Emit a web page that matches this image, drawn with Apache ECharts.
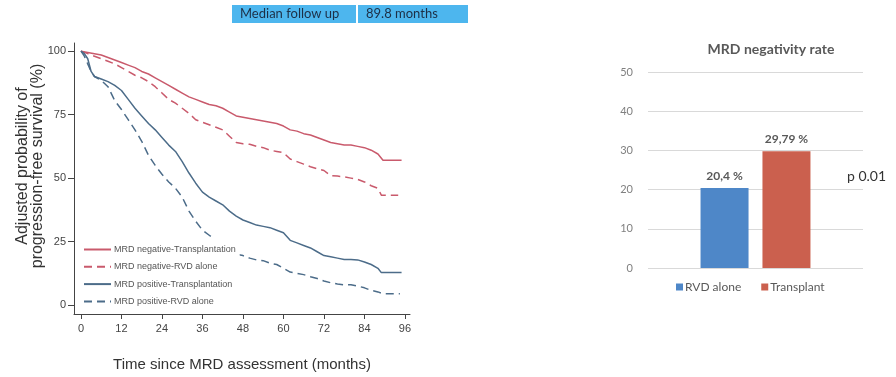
<!DOCTYPE html>
<html>
<head>
<meta charset="utf-8">
<script src="https://cdn.jsdelivr.net/npm/echarts@6/dist/echarts.min.js"></script>
<style>html,body{margin:0;padding:0;background:#fff}#c{width:896px;height:377px}</style>
</head>
<body>
<div id="c"></div>
<script>
// ---- Kaplan-Meier style curves (months, adjusted PFS %) ----
const xTicks = [0, 12, 24, 36, 48, 60, 72, 84, 96];
const yTicks = [0, 25, 50, 75, 100];

const negTxMonths = [0,2,4,6,8,10,12,14,16,18,20,22,24,26,28,30,32,34,36,38,40,42,44,46,48,50,52,54,56,58,60,62,64,66,68,70,72,74,76,78,80,82,84,86,88,89.5,95];
const negTxPFS    = [100,99.5,99,98.5,97.5,96.5,95.5,94.5,93.5,92,91,89.5,88,86.5,85,83.5,82,81,80,79,78.5,77.5,76,74.5,74,73.5,73,72.5,72,71.5,70.5,69,68.5,67.5,67,66,65,64,63.5,63,63,62.5,62,61,59.5,57,57];

const negRvdMonths = [0,2,4,6,8,10,12,14,16,18,20,22,24,26,28,30,32,34,36,38,40,42,44,46,48,50,52,54,56,58,60,62,64,66,68,70,72,74,76,78,80,82,84,86,88,89,94];
const negRvdPFS    = [100,99,98,97,96,95,93.5,92,90.5,89.5,88,86,83.5,81,79.5,77.5,75.5,73,72,71,70,69,66.5,64,63.5,63.3,62.5,62,61,60.5,60,57.5,56.5,55.5,54.5,53.7,53,51,50.8,50.5,50,49.5,48.5,47,46,43.3,43.3];

const posTxMonths = [0,1,2,3,4,6,8,10,12,14,16,18,20,22,24,26,28,30,32,34,36,38,40,42,44,46,48,50,52,54,56,58,60,62,64,66,68,70,72,74,76,78,80,82,84,86,88,89,95];
const posTxPFS    = [100,99,97,92,90,89,88,86.5,84.5,81,77.5,74.5,71.5,69,66,63,60.5,56.5,52,48,44.5,42.5,41,39.5,37,35,33.5,32.5,31.5,31,30.5,29.5,28.5,25.5,24.5,23.5,22.5,21,19.5,19,18.5,18,18,17.8,17,16,14.5,12.8,12.8];

const posRvdMonths = [0,1,2,3,4,6,8,10,12,14,16,18,20,22,24,26,28,30,32,34,36,38,40,42,44,46,48,50,52,54,56,58,60,62,64,66,68,70,72,74,76,78,80,82,84,86,88,89.5,94.5];
const posRvdPFS    = [100,98,95,92,90,88.5,86,80.5,77,73,69,64.5,59,55,51.5,48.5,46,42.5,37,33,29.5,27.5,25.5,23.5,21.5,20,19.5,18.5,17.8,17.5,16.5,16,14.5,13,12.5,12,11.2,10.5,9.5,8.8,8.3,8,8,7.5,6.8,5.8,5.2,4.5,4.5];

const curveNames = ['MRD negative-Transplantation', 'MRD negative-RVD alone', 'MRD positive-Transplantation', 'MRD positive-RVD alone'];

// ---- Bar chart ----
const barNames  = ['RVD alone', 'Transplant'];
const barValues = [20.4, 29.79];

function pairs(ms, vs) { return ms.map((m, i) => [m, vs[i]]); }

const RED = '#c95a6c', BLUE = '#4c6c89';
const sansL = '"Liberation Sans", Arial, sans-serif';
const sansR = 'Lato, "Open Sans", sans-serif';

function curve(name, ms, vs, color, dashed) {
  return {
    name, type: 'line', xAxisIndex: 0, yAxisIndex: 0,
    data: pairs(ms, vs), symbol: 'none', showSymbol: false,
    lineStyle: { color, width: 1.5, type: dashed ? [8, 5] : 'solid' },
    itemStyle: { color }, z: 2, animation: false
  };
}

const chart = echarts.init(document.getElementById('c'), null, { renderer: 'canvas' });
chart.setOption({
  animation: false,
  backgroundColor: '#fff',
  grid: [
    { left: 74, right: 486, top: 43, bottom: 59, containLabel: false },
    { left: 648, right: 33, top: 72, bottom: 109, containLabel: false }
  ],
  xAxis: [
    {
      type: 'value', gridIndex: 0, min: -2.07, max: 97.5,
      axisLine: { show: true, onZero: false, lineStyle: { color: '#444', width: 1 } },
      axisTick: { show: true, length: 5, customValues: xTicks, lineStyle: { color: '#444' } },
      axisLabel: { customValues: xTicks, margin: 9, color: '#444', fontSize: 11, fontFamily: sansL },
      splitLine: { show: false },
      name: 'Time since MRD assessment (months)', nameLocation: 'middle', nameGap: 43,
      nameTextStyle: { color: '#333', fontSize: 15, fontFamily: sansL }
    },
    {
      type: 'category', gridIndex: 1, data: [''],
      axisLine: { show: false }, axisTick: { show: false }, axisLabel: { show: false }
    }
  ],
  yAxis: [
    {
      type: 'value', gridIndex: 0, min: -3.5, max: 103.2,
      axisLine: { show: true, onZero: false, lineStyle: { color: '#444', width: 1 } },
      axisTick: { show: true, length: 6, customValues: yTicks, lineStyle: { color: '#444' } },
      axisLabel: { customValues: yTicks, margin: 8, color: '#444', fontSize: 11, fontFamily: sansL },
      splitLine: { show: false }
    },
    {
      type: 'value', gridIndex: 1, min: 0, max: 50, interval: 10,
      axisLine: { show: false }, axisTick: { show: false },
      axisLabel: { margin: 15, color: '#808080', fontSize: 11, fontFamily: sansR },
      splitLine: { show: true, lineStyle: { color: '#d9d9d9', width: 1 } }
    }
  ],
  legend: [
    {
      data: curveNames, orient: 'vertical', left: 81, top: 237,
      padding: [8, 4, 4, 2], itemWidth: 27, itemHeight: 10, itemGap: 8.3,
      backgroundColor: '#fff', selectedMode: false,
      itemStyle: { opacity: 0 },
      textStyle: { color: '#555', fontSize: 9, fontFamily: sansL, padding: [0, 0, 0, -2] }
    },
    {
      data: barNames, orient: 'horizontal', left: 671, top: 276,
      icon: 'rect', itemWidth: 7, itemHeight: 7, itemGap: 20, selectedMode: false,
      textStyle: { color: '#595959', fontSize: 12, fontFamily: sansR, padding: [0, 0, 0, -3] }
    }
  ],
  title: {
    text: 'MRD negativity rate', left: 766, top: 37, textAlign: 'center',
    textStyle: { color: '#595959', fontSize: 14, fontWeight: 'bold', fontFamily: sansR }
  },
  series: [
    curve(curveNames[0], negTxMonths, negTxPFS, RED, false),
    curve(curveNames[1], negRvdMonths, negRvdPFS, RED, true),
    curve(curveNames[2], posTxMonths, posTxPFS, BLUE, false),
    curve(curveNames[3], posRvdMonths, posRvdPFS, BLUE, true),
    {
      name: barNames[0], type: 'bar', xAxisIndex: 1, yAxisIndex: 1,
      data: [barValues[0]], barWidth: 48, barGap: '29%',
      itemStyle: { color: '#4e87c8' },
      label: { show: true, position: 'top', distance: 6, color: '#595959', fontSize: 12, fontWeight: 'bold', fontFamily: sansR,
        formatter: p => String(p.value).replace('.', ',') + ' %' }
    },
    {
      name: barNames[1], type: 'bar', xAxisIndex: 1, yAxisIndex: 1,
      data: [barValues[1]], barWidth: 48,
      itemStyle: { color: '#cb604e' },
      label: { show: true, position: 'top', distance: 6, color: '#595959', fontSize: 12, fontWeight: 'bold', fontFamily: sansR,
        formatter: p => String(p.value).replace('.', ',') + ' %' }
    }
  ],
  graphic: [
    { type: 'rect', shape: { x: 232, y: 5, width: 124, height: 18 }, style: { fill: '#4db6ee' } },
    { type: 'rect', shape: { x: 358, y: 5, width: 110, height: 18 }, style: { fill: '#4db6ee' } },
    { type: 'text', x: 240, y: 14, style: { text: 'Median follow up', fill: '#1d2f46', font: '13px ' + sansR, textVerticalAlign: 'middle' } },
    { type: 'text', x: 366, y: 14, style: { text: '89.8 months', fill: '#1d2f46', font: '13px ' + sansR, textVerticalAlign: 'middle' } },
    { type: 'text', x: 30, y: 166, rotation: Math.PI / 2,
      style: { text: 'Adjusted probability of\nprogression-free survival (%)', fill: '#333', font: '16px ' + sansL,
        textAlign: 'center', textVerticalAlign: 'middle', lineHeight: 15 } },
    { type: 'text', x: 847, y: 176, style: { text: 'p 0.01', fill: '#333', font: '14px ' + sansR, textVerticalAlign: 'middle' } }
  ]
});
</script>
</body>
</html>
